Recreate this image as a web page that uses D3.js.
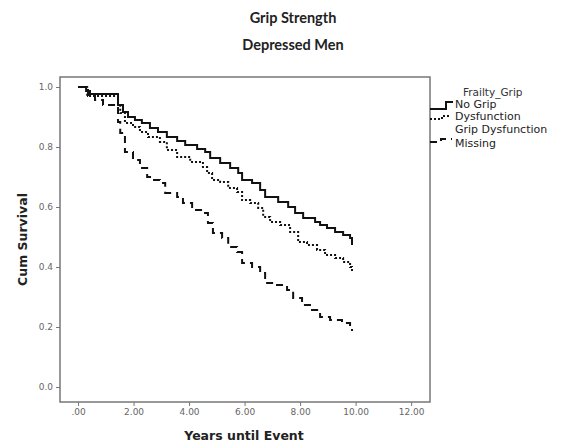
<!DOCTYPE html>
<html>
<head>
<meta charset="utf-8">
<script src="https://cdn.jsdelivr.net/npm/d3@7"></script>
<style>
  body { margin: 0; background: #fff; }
  text { font-family: "DejaVu Sans", sans-serif; }
  .tick text { fill: #666; font-size: 9px; }
  .tick line { stroke: #777; }
  .tituloeixo { font-weight: bold; font-size: 12.5px; fill: #222; }
  .titulo { font-family: Lato, sans-serif; font-weight: bold; font-size: 14.5px; fill: #222; }
</style>
</head>
<body>
<svg id="grafico"></svg>
<script>
//Data (Kaplan-Meier steps)
var seriesNames = ['No Grip Dysfunction', 'Grip Dysfunction', 'Missing'];

var noGripTimes = [0, 0.29, 0.43, 1.44, 1.62, 1.8, 2.05, 2.3, 2.59, 2.88, 3.2, 3.57, 3.86, 4.29, 4.58, 4.76, 5.12, 5.48, 5.77, 5.91, 6.27, 6.56, 6.74, 7.21, 7.57, 7.82, 8.11, 8.54, 8.72, 8.97, 9.26, 9.55, 9.80, 9.87];
var noGripSurv  = [1.0, 0.987, 0.977, 0.94, 0.917, 0.9, 0.89, 0.88, 0.863, 0.85, 0.833, 0.82, 0.807, 0.793, 0.783, 0.763, 0.747, 0.73, 0.713, 0.69, 0.68, 0.657, 0.633, 0.617, 0.6, 0.58, 0.563, 0.55, 0.54, 0.53, 0.517, 0.507, 0.497, 0.473];

var gripTimes = [0, 0.33, 1.44, 1.52, 1.69, 1.98, 2.23, 2.52, 2.95, 3.2, 3.57, 4.04, 4.5, 4.65, 4.83, 5.12, 5.41, 5.73, 5.91, 6.2, 6.49, 6.67, 6.92, 7.28, 7.64, 7.93, 8.25, 8.61, 8.9, 9.26, 9.55, 9.8, 9.87];
var gripSurv  = [1.0, 0.97, 0.94, 0.913, 0.88, 0.867, 0.85, 0.833, 0.817, 0.79, 0.767, 0.75, 0.733, 0.713, 0.69, 0.683, 0.663, 0.65, 0.623, 0.613, 0.597, 0.567, 0.55, 0.54, 0.517, 0.483, 0.473, 0.457, 0.44, 0.43, 0.417, 0.40, 0.383];

var missingTimes = [0, 0.36, 0.61, 0.9, 1.44, 1.52, 1.69, 1.98, 2.23, 2.49, 2.67, 2.95, 3.14, 3.57, 3.78, 4.11, 4.47, 4.68, 4.86, 5.19, 5.41, 5.73, 5.91, 6.27, 6.56, 6.74, 7.1, 7.53, 7.75, 8.07, 8.43, 8.72, 9.08, 9.51, 9.8, 9.87];
var missingSurv  = [1.0, 0.97, 0.957, 0.94, 0.883, 0.847, 0.783, 0.757, 0.73, 0.70, 0.69, 0.68, 0.647, 0.633, 0.613, 0.59, 0.58, 0.547, 0.513, 0.497, 0.467, 0.45, 0.413, 0.40, 0.38, 0.347, 0.34, 0.323, 0.297, 0.273, 0.257, 0.233, 0.223, 0.213, 0.197, 0.187];

var xTicks = [0, 2, 4, 6, 8, 10, 12];
var yTicks = [0, 0.2, 0.4, 0.6, 0.8, 1.0];

var largura = 573, altura = 448;

var svg = d3.select('#grafico')
            .attr('width', largura)
            .attr('height', altura);

//Plot frame
var frame = { left: 60, right: 430, top: 77, bottom: 402 };

var x = d3.scaleLinear()
        .domain([-0.65, 12.68])
        .range([frame.left, frame.right]);
var y = d3.scaleLinear()
        .domain([-0.05, 1.0333])
        .range([frame.bottom, frame.top]);

//Titles
svg.append('text')
    .attr('x', 293).attr('y', 23)
    .style('text-anchor', 'middle')
    .classed('titulo', true)
    .text('Grip Strength');
svg.append('text')
    .attr('x', 293).attr('y', 50)
    .style('text-anchor', 'middle')
    .classed('titulo', true)
    .text('Depressed Men');

//Axes
var eixoY = d3.axisLeft(y)
            .tickValues(yTicks)
            .tickSize(4)
            .tickFormat(d3.format('.1f'));
svg.append('g')
    .attr('transform', 'translate(' + frame.left + ',0)')
    .call(eixoY)
    .call(g => g.select('.domain').remove());

var eixoX = d3.axisBottom(x)
            .tickValues(xTicks)
            .tickSize(4)
            .tickFormat(d => d === 0 ? '.00' : d.toFixed(2));
svg.append('g')
    .attr('transform', 'translate(0,' + frame.bottom + ')')
    .call(eixoX)
    .call(g => g.select('.domain').remove());

svg.append('rect')
    .attr('x', frame.left).attr('y', frame.top)
    .attr('width', frame.right - frame.left)
    .attr('height', frame.bottom - frame.top)
    .attr('fill', 'none')
    .attr('stroke', '#777')
    .attr('stroke-width', 1.5);

//Axis titles
svg.append('text')
    .attr('transform', 'translate(27,' + (frame.top + frame.bottom) / 2 + ') rotate(-90)')
    .style('text-anchor', 'middle')
    .text('Cum Survival')
    .classed('tituloeixo', true);
svg.append('text')
    .attr('x', 244).attr('y', 440)
    .style('text-anchor', 'middle')
    .text('Years until Event')
    .classed('tituloeixo', true);

//Survival curves
var series = [
    { name: seriesNames[0], t: noGripTimes, s: noGripSurv, dash: null },
    { name: seriesNames[1], t: gripTimes, s: gripSurv, dash: '2,2' },
    { name: seriesNames[2], t: missingTimes, s: missingSurv, dash: '7,5' }
];

var linha = d3.line()
            .x(d => x(d[0]))
            .y(d => y(d[1]))
            .curve(d3.curveStepAfter);

svg.selectAll('.curva')
    .data(series)
    .enter()
    .append('path')
    .classed('curva', true)
    .attr('d', d => linha(d.t.map((t, i) => [t, d.s[i]])))
    .attr('fill', 'none')
    .attr('stroke', '#111')
    .attr('stroke-width', 2)
    .attr('stroke-dasharray', d => d.dash);

//Legend
var legenda = svg.append('g');
legenda.append('text')
    .attr('x', 463).attr('y', 96)
    .style('font-size', '10.5px').style('fill', '#333')
    .text('Frailty_Grip');

var simbolos = [
    'M430,109H446V102H453',
    'M430,119H442V116H451',
    'M430,142H441V139H452'
];
legenda.selectAll('.simbolo')
    .data(series)
    .enter()
    .append('path')
    .classed('simbolo', true)
    .attr('d', (d, i) => simbolos[i])
    .attr('fill', 'none')
    .attr('stroke', '#111')
    .attr('stroke-width', 2)
    .attr('stroke-dasharray', d => d.dash);

var rotulos = [['No Grip', 'Dysfunction'], ['Grip Dysfunction'], ['Missing']];
var rotuloY = [108, 133, 147];
rotulos.forEach(function(linhas, i) {
    var t = legenda.append('text')
                .attr('x', 455).attr('y', rotuloY[i])
                .style('font-size', '11px').style('fill', '#222');
    linhas.forEach(function(l, j) {
        t.append('tspan').attr('x', 455).attr('dy', j === 0 ? 0 : 12).text(l);
    });
});
</script>
</body>
</html>
